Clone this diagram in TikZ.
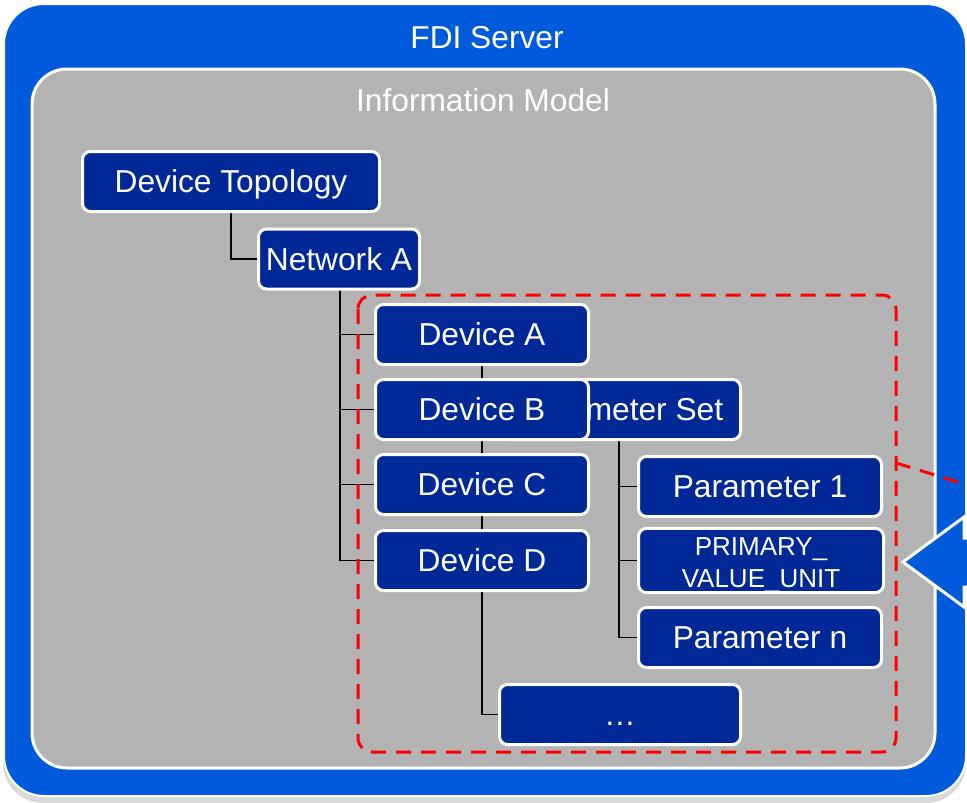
\documentclass[tikz,border=0pt]{standalone}
\usepackage{fontspec}
\setmainfont{Liberation Sans}
\definecolor{serverblue}{RGB}{0,91,220}
\definecolor{modelgray}{RGB}{179,179,179}
\definecolor{boxblue}{RGB}{0,40,150}
\definecolor{shadowgray}{RGB}{217,217,217}
\definecolor{selred}{RGB}{255,0,0}
\pgfdeclarelayer{links}
\pgfdeclarelayer{panels}
\pgfsetlayers{panels,links,main}
\begin{document}
\begin{tikzpicture}[x=1pt,y=-1pt,
  itembox/.style={draw=white, line width=3pt, fill=boxblue, rounded corners=8pt,
    text=white, minimum width=#1, minimum height=60pt, inner sep=0pt},
  item/.style={itembox=#1, font=\fontsize{31.7}{38}\selectfont,
    text height=22.7pt, text depth=0pt},
  link/.style={draw=black, line width=1.6pt},
  title/.style={text=white, font=\fontsize{31.7}{38}\selectfont, inner sep=0pt,
    text height=22.7pt, text depth=0pt}]
\useasboundingbox (0,0) rectangle (967,803);
\clip (0,0) rectangle (967,803);

\begin{pgfonlayer}{panels}
  \fill[white] (0,0) rectangle (967,803);
  % server frame with its soft shadow
  \fill[shadowgray, rounded corners=40pt] (3,9) rectangle (966,803);
  \draw[white, line width=2pt, fill=serverblue, rounded corners=40pt] (4,4) rectangle (966,796);
  % information model panel
  \draw[white, line width=3pt, fill=modelgray, rounded corners=35pt] (32,69) rectangle (935,768);
\end{pgfonlayer}

\node[title] (server) at (487,37) {FDI Server};
\node[title] (model) at (483,100) {Information Model};

% tree nodes
\node[item=297pt] (topo) at (231,181.5) {Device Topology};
\node[item=161pt] (netA) at (339,259) {Network A};
\node[item=239pt] (pset) at (621,409.5) {Parameter Set};
\node[item=213pt] (devA) at (482,334.5) {Device A};
\node[item=213pt] (devB) at (482,409.5) {Device B};
\node[item=213pt] (devC) at (482,484.5) {Device C};
\node[item=213pt] (devD) at (482,560.5) {Device D};
\node[item=243pt] (par1) at (760,486.5) {Parameter 1};
\node[itembox=245pt, font=\fontsize{26}{32}\selectfont, align=center]
  (pvu) at (761,560.5) {\rule{0pt}{27pt}PRIMARY\_\\VALUE\_UNIT};
\node[item=243pt] (parn) at (760,637.5) {Parameter n};
\node[item=241pt] (dots) at (620,714.5) {…};

% tree connectors, kept underneath the boxes
\coordinate (nspine) at (340,290);
\coordinate (dspine) at (482,366);
\coordinate (pspine) at (619,441);
\begin{pgfonlayer}{links}
  \draw[link] (topo.south) |- (netA.west);
  \draw[link] (nspine) |- (devA.west);
  \draw[link] (nspine) |- (devB.west);
  \draw[link] (nspine) |- (devC.west);
  \draw[link] (nspine) |- (devD.west);
  \draw[link] (dspine) |- (dots.west);
  \draw[link] (pspine) |- (par1.west);
  \draw[link] (pspine) |- (pvu.west);
  \draw[link] (pspine) |- (parn.west);
\end{pgfonlayer}

% selection frame and its callout
\draw[selred, line width=3pt, dash pattern=on 15pt off 10pt, rounded corners=14pt]
  (358,295) rectangle (896,752);
\coordinate (selcorner) at (896,463);
\coordinate (offpage) at (1000,495);
\draw[selred, line width=3pt, dash pattern=on 15pt off 10pt] (selcorner) -- (offpage);

% arrow entering from the right
\draw[white, line width=3pt, fill=serverblue, line join=miter]
  (903,562) -- (964,517) -- (964,538) -- (1010,538) -- (1010,587)
  -- (964,587) -- (964,607) -- cycle;
\end{tikzpicture}
\end{document}
